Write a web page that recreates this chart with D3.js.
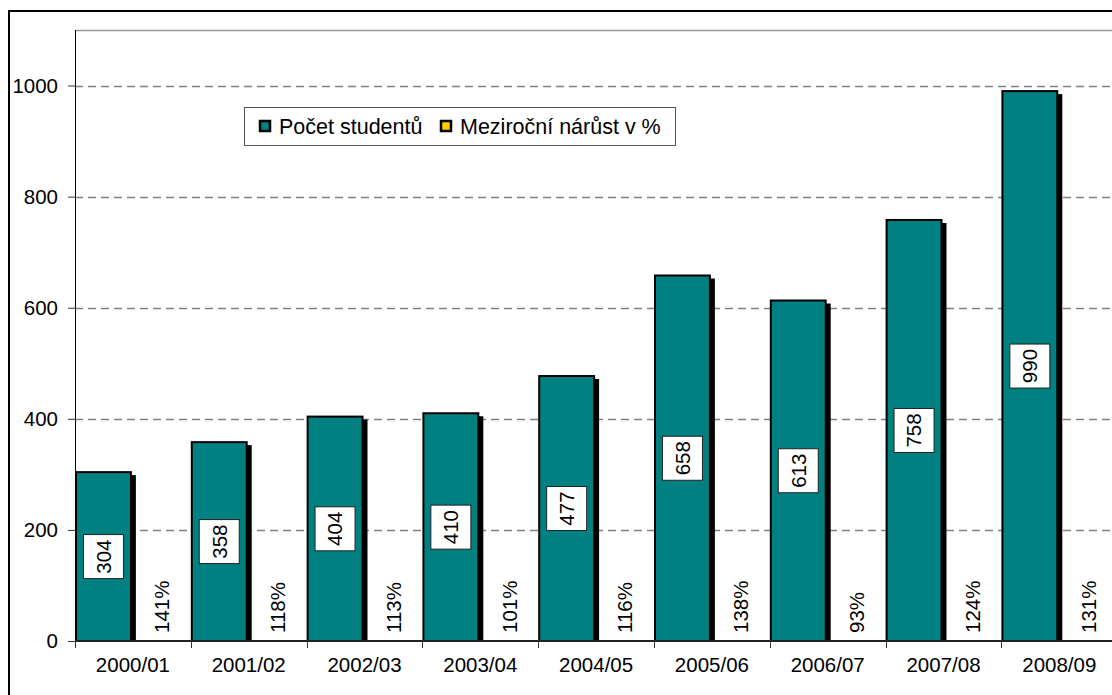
<!DOCTYPE html>
<html>
<head>
<meta charset="utf-8">
<script src="https://cdn.jsdelivr.net/npm/d3@7"></script>
<style>
  body { margin: 0; background: #fff; }
  svg { display: block; font-family: "Liberation Sans", Arial, sans-serif; }
</style>
</head>
<body>
<div id="chart"></div>
<script>
// data
const years = ["2000/01", "2001/02", "2002/03", "2003/04", "2004/05", "2005/06", "2006/07", "2007/08", "2008/09"];
const students = [304, 358, 404, 410, 477, 658, 613, 758, 990];
const growth = [141, 118, 113, 101, 116, 138, 93, 124, 131];
const yTicks = [0, 200, 400, 600, 800, 1000];
const seriesNames = ["Počet studentů", "Meziroční nárůst v %"];
const seriesColors = ["#008080", "#FFCC00"];

const width = 1112, height = 695;
const margin = { top: 30, left: 75 };
const plotRight = 75 + 9 * 115.8;
const plotBottom = 641;

const svg = d3.select("#chart").append("svg")
    .attr("width", width)
    .attr("height", height);

// outer border
svg.append("rect")
    .attr("x", 9).attr("y", 11)
    .attr("width", width + 20).attr("height", height + 20)
    .attr("fill", "none").attr("stroke", "#000").attr("stroke-width", 2);

const x = d3.scaleBand().domain(years).range([margin.left, plotRight]).padding(0);
const xSub = d3.scaleBand().domain(["students", "growth"]).range([0, x.bandwidth()]);
const y = d3.scaleLinear().domain([0, 1100]).range([plotBottom, margin.top]);

// plot area top border
svg.append("line")
    .attr("x1", margin.left).attr("x2", plotRight)
    .attr("y1", margin.top + 0.5).attr("y2", margin.top + 0.5)
    .attr("stroke", "#999").attr("stroke-width", 1.5);

// gridlines
svg.append("g")
    .selectAll("line")
    .data(yTicks.filter(d => d > 0))
    .join("line")
    .attr("x1", margin.left).attr("x2", plotRight)
    .attr("y1", d => Math.round(y(d)) + 0.5).attr("y2", d => Math.round(y(d)) + 0.5)
    .attr("stroke", "#808080").attr("stroke-width", 1.3)
    .attr("stroke-dasharray", "8,5");

const data = years.map((yr, i) => ({ year: yr, students: students[i], growth: growth[i] }));

// bar shadows
svg.append("g")
    .selectAll("rect")
    .data(data)
    .join("rect")
    .attr("x", d => x(d.year) + xSub("students") + 5)
    .attr("y", d => y(d.students) + 3)
    .attr("width", xSub.bandwidth() - 2)
    .attr("height", d => plotBottom - y(d.students) - 3)
    .attr("fill", "#000");

// bars
svg.append("g")
    .selectAll("rect")
    .data(data)
    .join("rect")
    .attr("x", d => x(d.year) + xSub("students") + 1)
    .attr("y", d => y(d.students))
    .attr("width", xSub.bandwidth() - 3)
    .attr("height", d => plotBottom - y(d.students))
    .attr("fill", seriesColors[0])
    .attr("stroke", "#000")
    .attr("stroke-width", 2);

// value labels inside bars
const lab = svg.append("g")
    .selectAll("g")
    .data(data)
    .join("g")
    .attr("transform", d => `translate(${x(d.year) + xSub("students") + xSub.bandwidth() / 2 - 0.5},${(y(d.students) + plotBottom) / 2})`);

lab.append("rect")
    .attr("x", -20).attr("y", -22)
    .attr("width", 40).attr("height", 44)
    .attr("fill", "#fff").attr("stroke", "#222").attr("stroke-width", 1);

lab.append("text")
    .attr("transform", "rotate(-90)")
    .attr("text-anchor", "middle")
    .attr("dy", "0.36em")
    .attr("font-size", 20.5)
    .text(d => d.students);

// growth labels
svg.append("g")
    .selectAll("text")
    .data(data)
    .join("text")
    .attr("transform", d => `translate(${x(d.year) + xSub("growth") + xSub.bandwidth() / 2},${plotBottom - 8}) rotate(-90)`)
    .attr("dy", "0.36em")
    .attr("font-size", 20.5)
    .text(d => d.growth + "%");

// y axis
const yAxis = svg.append("g")
    .attr("transform", `translate(${margin.left},0)`)
    .call(d3.axisLeft(y).tickValues(yTicks).tickFormat(d3.format("d")).tickSize(7).tickPadding(10).tickSizeOuter(0));
yAxis.select(".domain").remove();
yAxis.selectAll("text").attr("font-size", 20.5).attr("fill", "#000").attr("font-family", null);
yAxis.selectAll(".tick line").attr("stroke", "#333");
svg.append("line")
    .attr("x1", margin.left + 0.5).attr("x2", margin.left + 0.5)
    .attr("y1", margin.top).attr("y2", plotBottom)
    .attr("stroke", "#000").attr("stroke-width", 1);

// x axis
const xAxis = svg.append("g")
    .attr("transform", `translate(0,${plotBottom})`)
    .call(d3.axisBottom(x).tickSize(0).tickPadding(16).tickSizeOuter(0));
xAxis.select(".domain").remove();
xAxis.selectAll("text").attr("font-size", 20.5).attr("fill", "#000").attr("font-family", null);
svg.append("g")
    .selectAll("line")
    .data(years)
    .join("line")
    .attr("x1", d => Math.round(x(d)) + 0.5).attr("x2", d => Math.round(x(d)) + 0.5)
    .attr("y1", plotBottom).attr("y2", plotBottom + 7)
    .attr("stroke", "#333");
svg.append("line")
    .attr("x1", margin.left).attr("x2", plotRight)
    .attr("y1", plotBottom).attr("y2", plotBottom)
    .attr("stroke", "#222").attr("stroke-width", 2);

// legend
const legend = svg.append("g");
legend.append("rect")
    .attr("x", 244.5).attr("y", 107.5)
    .attr("width", 431).attr("height", 38)
    .attr("fill", "#fff").attr("stroke", "#555").attr("stroke-width", 1);
const legendX = [259, 440];
const items = legend.selectAll("g")
    .data(seriesNames)
    .join("g")
    .attr("transform", (d, i) => `translate(${legendX[i]},120)`);
items.append("rect")
    .attr("x", 1).attr("y", 1)
    .attr("width", 10).attr("height", 10)
    .attr("fill", (d, i) => seriesColors[i])
    .attr("stroke", "#000").attr("stroke-width", 2.5);
items.append("text")
    .attr("x", 20).attr("y", 13.5)
    .attr("font-size", 21.5)
    .text(d => d);
</script>
</body>
</html>
